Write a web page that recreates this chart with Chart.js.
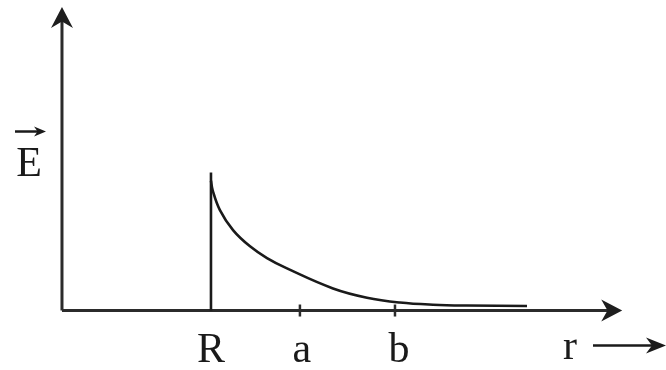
<!DOCTYPE html>
<html>
<head>
<meta charset="utf-8">
<script src="https://cdn.jsdelivr.net/npm/chart.js@4/dist/chart.umd.min.js"></script>
<style>
  html, body { margin: 0; padding: 0; background: #fff; }
  #c { display: block; }
</style>
</head>
<body>
<canvas id="c" width="666" height="370"></canvas>
<script>
// r in units of R, E in arbitrary units (E at top of jump = 1)
var rCurve = [1.0, 1.011, 1.06, 1.148, 1.262, 1.376, 1.51, 1.819, 2.047, 2.268, 2.49, 2.718, 3.121];
var eCurve = [0.94, 0.873, 0.728, 0.583, 0.465, 0.38, 0.305, 0.16, 0.093, 0.058, 0.042, 0.036, 0.033];
var rJump = [1.0, 1.0];
var eJump = [0, 1.0];
var tickLabels = ['R', 'a', 'b'];
var tickValues = [1.0, 1.597, 2.235];
var xAxisMax = 3.76;
var yAxisMax = 2.2;

function pts(xs, ys) {
    return xs.map(function (v, i) { return { x: v, y: ys[i] }; });
}

function arrowHead(ctx, tx, ty, dir, len, half) {
    // dir: 'right' or 'up'
    ctx.beginPath();
    if (dir === 'right') {
        ctx.moveTo(tx, ty);
        ctx.lineTo(tx - len, ty - half);
        ctx.lineTo(tx - len * 0.7, ty);
        ctx.lineTo(tx - len, ty + half);
    } else {
        ctx.moveTo(tx, ty);
        ctx.lineTo(tx - half, ty + len);
        ctx.lineTo(tx, ty + len * 0.7);
        ctx.lineTo(tx + half, ty + len);
    }
    ctx.closePath();
    ctx.fill();
}

var axesPlugin = {
    id: 'axes',
    beforeDatasetsDraw: function (chart) {
        var ctx = chart.ctx, x = chart.scales.x, y = chart.scales.y;
        var x0 = x.getPixelForValue(0), y0 = y.getPixelForValue(0);
        var xe = x.getPixelForValue(xAxisMax), ye = y.getPixelForValue(yAxisMax);
        ctx.save();
        ctx.strokeStyle = '#2b2b2b';
        ctx.fillStyle = '#1e1e1e';
        ctx.lineWidth = 3;
        ctx.beginPath();
        ctx.moveTo(x0, y0);
        ctx.lineTo(xe - 10, y0);
        ctx.moveTo(x0, y0);
        ctx.lineTo(x0, ye + 10);
        ctx.stroke();
        arrowHead(ctx, xe, y0, 'right', 21, 11);
        arrowHead(ctx, x0, ye, 'up', 21, 11);

        // ticks at a and b
        ctx.lineWidth = 2.5;
        for (var i = 1; i < tickValues.length; i++) {
            var px = x.getPixelForValue(tickValues[i]);
            ctx.beginPath();
            ctx.moveTo(px, y0 - 6);
            ctx.lineTo(px, y0 + 6);
            ctx.stroke();
        }

        // labels
        ctx.fillStyle = '#1a1a1a';
        ctx.font = '42px "Liberation Serif", serif';
        ctx.textAlign = 'center';
        ctx.textBaseline = 'alphabetic';
        var offs = [0, 2, 4];
        for (var j = 0; j < tickLabels.length; j++) {
            ctx.fillText(tickLabels[j], x.getPixelForValue(tickValues[j]) + offs[j], y0 + 51);
        }
        ctx.fillText('r', 570, y0 + 48);
        ctx.strokeStyle = '#1a1a1a';
        ctx.lineWidth = 2.5;
        ctx.beginPath();
        ctx.moveTo(593, y0 + 35);
        ctx.lineTo(655, y0 + 35);
        ctx.stroke();
        arrowHead(ctx, 666, y0 + 35, 'right', 20, 8);

        // E vector label
        var ey = y.getPixelForValue(1.0) + 3;
        ctx.font = '42px "Liberation Serif", serif';
        ctx.fillText('E', 29, ey);
        ctx.lineWidth = 2.5;
        ctx.beginPath();
        ctx.moveTo(15, ey - 44);
        ctx.lineTo(38, ey - 44);
        ctx.stroke();
        arrowHead(ctx, 46, ey - 44, 'right', 12, 5);
        ctx.restore();
    }
};

new Chart(document.getElementById('c').getContext('2d'), {
    type: 'scatter',
    data: {
        datasets: [{
            data: pts(rCurve, eCurve),
            showLine: true,
            borderColor: '#1a1a1a',
            borderWidth: 2.6,
            pointRadius: 0,
            tension: 0.4,
            fill: false
        }, {
            data: pts(rJump, eJump),
            showLine: true,
            borderColor: '#1a1a1a',
            borderWidth: 2.6,
            pointRadius: 0,
            fill: false
        }]
    },
    options: {
        responsive: false,
        animation: false,
        layout: { padding: 0 },
        plugins: { legend: { display: false }, tooltip: { enabled: false } },
        scales: {
            x: { type: 'linear', display: false, min: -0.416, max: 4.054 },
            y: { type: 'linear', display: false, min: -0.431, max: 2.25 }
        }
    },
    plugins: [axesPlugin]
});
</script>
</body>
</html>
